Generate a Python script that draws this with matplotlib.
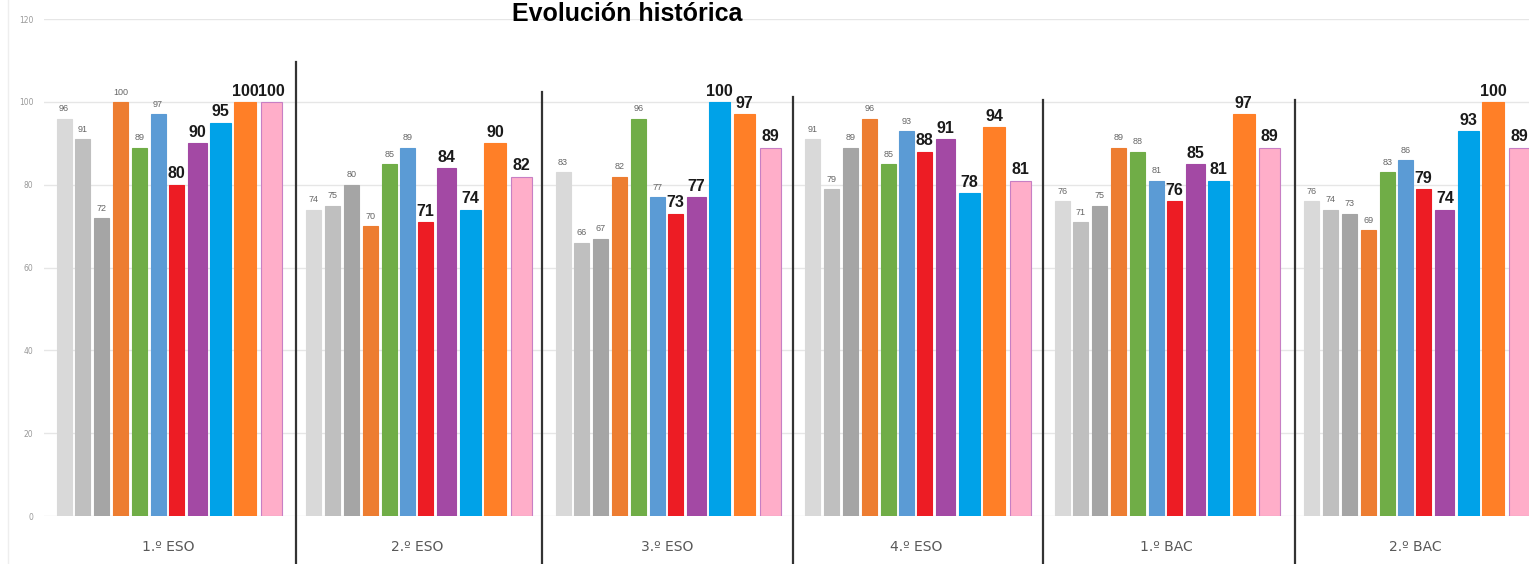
import matplotlib
matplotlib.use("Agg")
import matplotlib.pyplot as plt
import numpy as np

categories = ["1.º ESO", "2.º ESO", "3.º ESO", "4.º ESO", "1.º BAC", "2.º BAC"]
eso1 = [96, 91, 72, 100, 89, 97, 80, 90, 95, 100, 100]
eso2 = [74, 75, 80, 70, 85, 89, 71, 84, 74, 90, 82]
eso3 = [83, 66, 67, 82, 96, 77, 73, 77, 100, 97, 89]
eso4 = [91, 79, 89, 96, 85, 93, 88, 91, 78, 94, 81]
bac1 = [76, 71, 75, 89, 88, 81, 76, 85, 81, 97, 89]
bac2 = [76, 74, 73, 69, 83, 86, 79, 74, 93, 100, 89]
groups = [eso1, eso2, eso3, eso4, bac1, bac2]
yticks = [0, 20, 40, 60, 80, 100, 120]

# layout / style (not data)
colors = ["#d9d9d9", "#bfbfbf", "#a5a5a5", "#ed7d31", "#70ad47", "#5b9bd5",
          "#ed1c24", "#a349a4", "#00a2e8", "#ff7f27", "#ffaec9"]
edges = ["#d9d9d9", "#bfbfbf", "#a5a5a5", "#ed7d31", "#70ad47", "#5b9bd5",
         "#ed1c24", "#a349a4", "#00a2e8", "#ff7f27", "#c77fc4"]
offsets = [-0.416, -0.341, -0.265, -0.189, -0.113, -0.039, 0.033, 0.118,
           0.211, 0.311, 0.416]
widths = [0.060] * 7 + [0.076, 0.084, 0.088, 0.084]

fig = plt.figure(figsize=(15.29, 5.64), dpi=100)
ax = fig.add_axes([0.029, 0.085, 0.971, 0.881])
ax.set_xlim(-0.495, 5.455)
ax.set_ylim(0, 120)

for gi, vals in enumerate(groups):
    for j, v in enumerate(vals):
        x = gi + offsets[j]
        ax.bar(x, v, width=widths[j], color=colors[j], edgecolor=edges[j],
               linewidth=0.8, zorder=3)
        if j < 6:
            ax.text(x, v + 1.3, str(v), ha="center", va="bottom",
                    fontsize=6.5, color="#666666", family="Liberation Sans",
                    zorder=4)
        else:
            ax.text(x, v + 0.8, str(v), ha="center", va="bottom",
                    fontsize=11.5, fontweight="bold", color="#1a1a1a",
                    family="Liberation Sans", zorder=4)

# separators between groups
sep_x = [0.515, 1.498, 2.504, 3.507, 4.517]
sep_tops = [109.7, 102.4, 101.2, 100.5, 100.5]
for sx, top in zip(sep_x, sep_tops):
    ax.plot([sx, sx], [-11.6, top], color="#333333", lw=1.6,
            clip_on=False, zorder=5)

for s in ax.spines.values():
    s.set_visible(False)
ax.set_yticks(yticks)
ax.set_yticklabels([str(t) for t in yticks], fontsize=5.5, color="#999999")
ax.tick_params(axis="y", length=0, pad=8)
ax.grid(axis="y", color="#e6e6e6", lw=1, zorder=0)
ax.set_xticks(range(len(categories)))
ax.set_xticklabels(categories, fontsize=10, color="#595959")
ax.tick_params(axis="x", length=0, pad=17)

fig.text(0.41, 0.975, "Evolución histórica", ha="center", va="center",
         fontsize=18, fontweight="bold", color="black", family="Liberation Sans")
fig.add_artist(plt.Line2D([0.005, 0.005], [0.0, 1.0], color="#eeeeee", lw=1))

fig.savefig("out.png", dpi=100)
